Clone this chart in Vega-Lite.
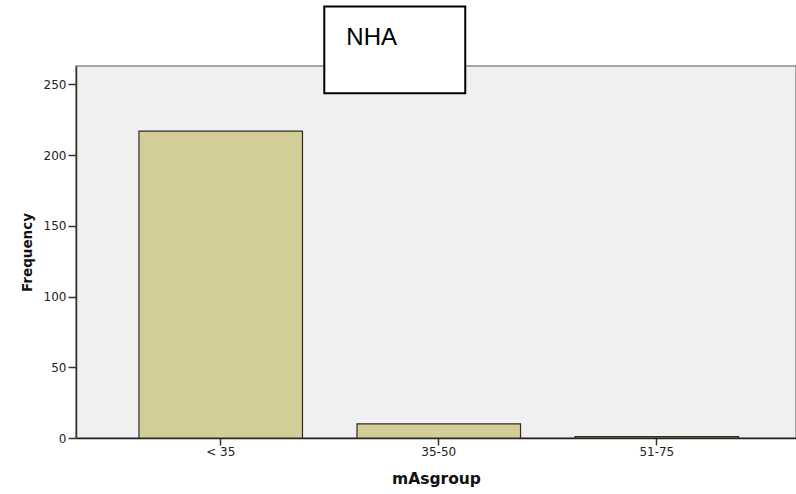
{
  "$schema": "https://vega.github.io/schema/vega-lite/v6.json",
  "width": 720,
  "height": 372,
  "autosize": {"type": "none"},
  "padding": {"left": 76, "top": 66, "right": 0, "bottom": 56},
  "background": "white",
  "config": {
    "view": {"fill": "#f0f0f0", "stroke": "#8a8a8a", "strokeWidth": 1.5},
    "font": "DejaVu Sans"
  },
  "datasets": {
    "freq": [
      {"mAsgroup": "< 35", "Frequency": 217},
      {"mAsgroup": "35-50", "Frequency": 10},
      {"mAsgroup": "51-75", "Frequency": 1}
    ],
    "heading": [{"label": "NHA"}]
  },
  "layer": [
    {
      "data": {"name": "freq"},
      "mark": {"type": "bar", "fill": "#d3ce97", "stroke": "#2e2e22", "strokeWidth": 1.2},
      "encoding": {
        "x": {
          "field": "mAsgroup",
          "type": "nominal",
          "sort": null,
          "scale": {"domain": ["< 35", "35-50", "51-75"], "paddingInner": 0.25, "paddingOuter": 0.276, "align": 0.523},
          "axis": {
            "title": "mAsgroup",
            "titleFont": "DejaVu Sans",
            "titleFontSize": 15.5,
            "titleFontWeight": "bold",
            "titleColor": "#111111",
            "titlePadding": 14,
            "labelAngle": 0,
            "labelFont": "DejaVu Sans",
            "labelFontSize": 12,
            "labelColor": "#222222",
            "labelPadding": 1,
            "tickSize": 7,
            "tickColor": "#333333",
            "tickWidth": 1.5,
            "domainColor": "#222222",
            "domainWidth": 1.5
          }
        },
        "y": {
          "field": "Frequency",
          "type": "quantitative",
          "scale": {"domain": [0, 263], "nice": false},
          "axis": {
            "title": "Frequency",
            "titleFont": "DejaVu Sans",
            "titleFontSize": 13.5,
            "titleFontWeight": "bold",
            "titleColor": "#111111",
            "titlePadding": 9,
            "labelFont": "DejaVu Sans",
            "labelFontSize": 12,
            "labelColor": "#222222",
            "labelPadding": 2,
            "tickSize": 8,
            "tickColor": "#333333",
            "tickWidth": 1.5,
            "domainColor": "#333333",
            "domainWidth": 1.5,
            "grid": false,
            "values": [0, 50, 100, 150, 200, 250]
          }
        }
      }
    },
    {
      "data": {"name": "heading"},
      "mark": {"type": "rect", "fill": "white", "stroke": "black", "strokeWidth": 2, "clip": false},
      "encoding": {
        "x": {"datum": "35-50", "bandPosition": -0.2},
        "x2": {"datum": "35-50", "bandPosition": 0.662},
        "y": {"datum": 305},
        "y2": {"datum": 243.8}
      }
    },
    {
      "data": {"name": "heading"},
      "mark": {"type": "text", "align": "left", "baseline": "alphabetic", "fontSize": 24, "font": "Liberation Sans", "color": "black", "clip": false},
      "encoding": {
        "text": {"field": "label"},
        "x": {"datum": "35-50", "bandPosition": -0.065},
        "y": {"datum": 277.6}
      }
    }
  ]
}
